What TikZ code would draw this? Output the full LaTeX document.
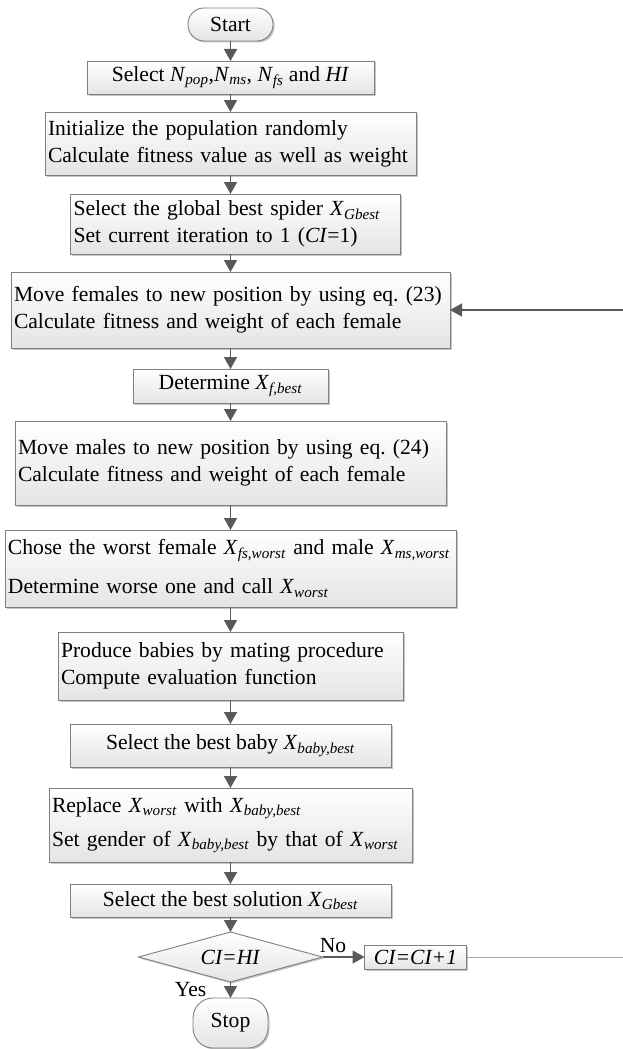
\documentclass[tikz,border=0pt]{standalone}
\usepackage{fontspec}
\setmainfont{Liberation Serif}
\usetikzlibrary{arrows.meta,positioning,shapes.geometric,shadows}

\definecolor{edgegray}{HTML}{7F7F7F}
\definecolor{arrowgray}{HTML}{595959}
\definecolor{shadegray}{HTML}{E4E4E4}
\newcommand\varsub[2]{\textit{#1}\textsubscript{\textit{#2}}}
\frenchspacing

\begin{document}
\begin{tikzpicture}[
  x=1pt,y=1pt,
  font=\fontsize{21.6}{27}\selectfont,
  box/.style={draw=edgegray,line width=0.9pt,top color=white,bottom color=shadegray,
    drop shadow={shadow xshift=1.5pt,shadow yshift=-1.5pt,fill=gray!45,opacity=1},
    inner sep=0pt,outer sep=0pt},
  proc/.style={box,align=center},
  procl/.style={box,align=left,inner xsep=3pt,text width=#1},
  term/.style={box,rounded corners=16pt,minimum width=85pt,minimum height=33pt},
  halt/.style={box,rounded corners=20pt,minimum width=75pt,minimum height=50pt},
  decide/.style={box,diamond,aspect=3.68,minimum width=184pt,minimum height=50pt},
  flow/.style={draw=arrowgray,line width=1.6pt,-{Triangle[width=13pt,length=12pt]}}
]
  \useasboundingbox (0,0) rectangle (622,-1049);

  \node[term] (start) at (230.5,-24.5) {Start};
  \node[proc,minimum width=287pt,minimum height=33pt,below=20pt of start] (sel)
    {Select \varsub{N}{pop},\varsub{N}{ms}, \varsub{N}{fs} and \textit{HI}};
  \node[procl=365pt,minimum height=63pt,below=18pt of sel] (init)
    {Initialize the population randomly\\Calculate fitness value as well as weight};
  \node[procl=324pt,minimum height=60pt,below=19pt of init,xshift=5pt] (glob)
    {Select the global best spider \varsub{X}{Gbest}\\Set current iteration to 1 (\textit{CI}=1)};
  \node[procl=433pt,minimum height=76pt,below=18pt of glob,xshift=-5pt] (femal)
    {Move females to new position by using eq. (23)\\Calculate fitness and weight of each female};
  \node[proc,minimum width=195pt,minimum height=34pt,below=21pt of femal] (detf)
    {Determine \varsub{X}{f,best}};
  \node[procl=425pt,minimum height=84pt,below=18pt of detf] (males)
    {Move males to new position by using eq. (24)\\Calculate fitness and weight of each female};
  \node[procl=445pt,minimum height=77pt,below=25pt of males] (worst)
    {Chose the worst female \varsub{X}{fs,worst} and male \varsub{X}{ms,worst}\\[12pt]Determine worse one and call \varsub{X}{worst}};
  \node[procl=339pt,minimum height=68pt,below=25pt of worst] (mate)
    {Produce babies by mating procedure\\Compute evaluation function};
  \node[proc,minimum width=321pt,minimum height=43pt,below=24pt of mate] (bbest)
    {Select the best baby \varsub{X}{baby,best}};
  \node[procl=357pt,minimum height=74pt,below=21pt of bbest] (repl)
    {Replace \varsub{X}{worst} with \varsub{X}{baby,best}\\[7pt]Set gender of \varsub{X}{baby,best} by that of \varsub{X}{worst}};
  \node[proc,minimum width=321pt,minimum height=33pt,below=22pt of repl] (gbest)
    {Select the best solution \varsub{X}{Gbest}};
  \node[decide,below=15pt of gbest] (check) {\textit{CI=HI}};
  \node[box,minimum width=102pt,minimum height=24pt,right=42pt of check] (inc) {\textit{CI=CI+1}};
  \node[halt,below=16pt of check] (stop) {Stop};
  \coordinate (back) at (640,0);

  \draw[flow] (start) -- (sel);
  \draw[flow] (sel) -- (init);
  \draw[flow] (init) -- (init |- glob.north);
  \draw[flow] (glob.south -| femal) -- (femal);
  \draw[flow] (femal) -- (detf);
  \draw[flow] (detf) -- (males);
  \draw[flow] (males) -- (worst);
  \draw[flow] (worst) -- (mate);
  \draw[flow] (mate) -- (bbest);
  \draw[flow] (bbest) -- (repl);
  \draw[flow] (repl) -- (gbest);
  \draw[flow] (gbest) -- (check);
  \draw[flow] (check) -- node[above,pos=0.25]{No} (inc);
  \draw[flow] (check) -- node[left=20pt]{Yes} (stop);
  % loop back to the females step
  \draw[gray!70,line width=0.8pt] (inc) -- (inc -| back) -- (back |- femal);
  \draw[flow] (back |- femal) -- (femal);
\end{tikzpicture}
\end{document}
